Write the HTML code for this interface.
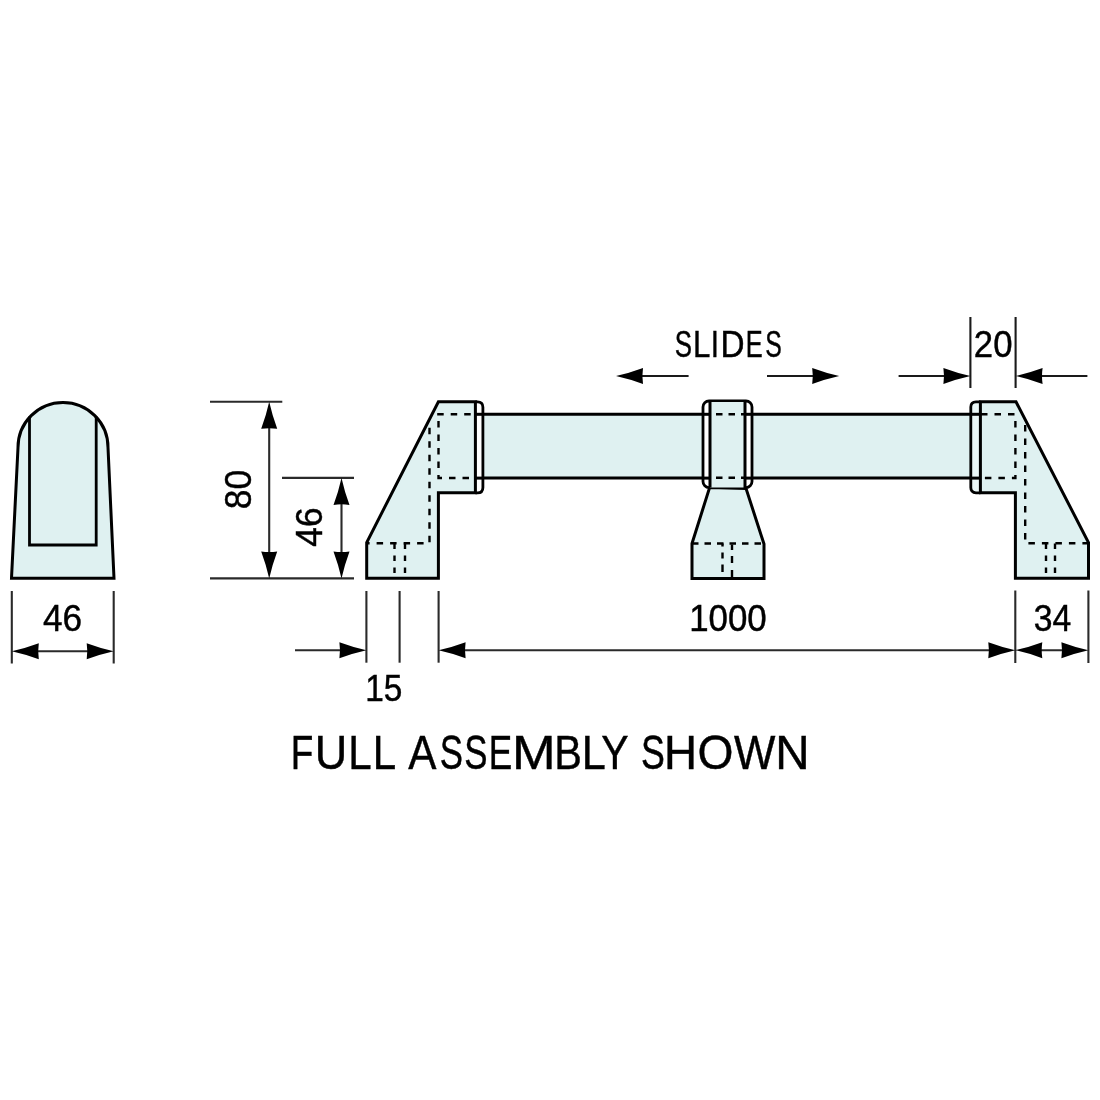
<!DOCTYPE html>
<html><head><meta charset="utf-8">
<style>
html,body{margin:0;padding:0;background:#fff;width:1100px;height:1100px;overflow:hidden}
svg{display:block}
text{font-family:"Liberation Sans",sans-serif;fill:#000}
</style></head><body>
<svg width="1100" height="1100" viewBox="0 0 1100 1100">
<defs>
<path id="ah" d="M0 0 Q-13.5 -3 -27 -8 Q-25.8 0 -27 8 Q-13.5 3 0 0 Z" fill="#000"/>
</defs>
<rect width="1100" height="1100" fill="#fff"/>

<!-- LEFT PROFILE -->
<path d="M11.5 578.2 L18 447.5 A45 45 0 0 1 108 447.5 L114 578.2 Z" fill="#dff1f1" stroke="#000" stroke-width="3" stroke-linejoin="miter"/>
<path d="M29.5 416.5 L29.5 545 L96.2 545 L96.2 416.5" fill="none" stroke="#000" stroke-width="2.8"/>

<!-- dims left profile -->
<g stroke="#2a2a2a" stroke-width="2.1" fill="none">
<line x1="11.8" y1="591" x2="11.8" y2="663.5"/>
<line x1="113.7" y1="591" x2="113.7" y2="663.5"/>
<line x1="20" y1="651.2" x2="105" y2="651.2"/>
</g>
<use href="#ah" transform="translate(11.8 651.2) rotate(180)"/>
<use href="#ah" transform="translate(113.7 651.2)"/>

<!-- height dims -->
<g stroke="#2a2a2a" stroke-width="2.1" fill="none">
<line x1="210" y1="401.8" x2="282.3" y2="401.8"/>
<line x1="210" y1="578.4" x2="354" y2="578.4"/>
<line x1="282" y1="477.9" x2="354" y2="477.9"/>
<line x1="269.2" y1="410" x2="269.2" y2="570"/>
<line x1="341.5" y1="486" x2="341.5" y2="570"/>
</g>
<use href="#ah" transform="translate(269.2 401.8) rotate(-90)"/>
<use href="#ah" transform="translate(269.2 578.4) rotate(90)"/>
<use href="#ah" transform="translate(341.5 477.9) rotate(-90)"/>
<use href="#ah" transform="translate(341.5 578.4) rotate(90)"/>

<!-- BAR -->
<rect x="482" y="414.3" width="490" height="63.8" fill="#dff1f1"/>
<g stroke="#000" stroke-width="3">
<line x1="475" y1="414.3" x2="710" y2="414.3"/>
<line x1="475" y1="478.1" x2="710" y2="478.1"/>
<line x1="745" y1="414.3" x2="980.4" y2="414.3"/>
<line x1="745" y1="478.1" x2="980.4" y2="478.1"/>
</g>

<!-- LEFT LEG -->
<path d="M475.4 401.8 L477.5 401.8 Q482.9 401.8 482.9 407.2 L482.9 487.4 Q482.9 492.8 477.5 492.8 L475.4 492.8" fill="#fff" stroke="#000" stroke-width="2.8"/>
<line x1="475.4" y1="414.3" x2="482.9" y2="414.3" stroke="#000" stroke-width="3"/>
<line x1="475.4" y1="478.1" x2="482.9" y2="478.1" stroke="#000" stroke-width="3"/>
<path d="M438.4 401.8 L475.4 401.8 L475.4 492.8 L438.4 492.8 L438.4 578.2 L366.7 578.2 L366.7 542.5 Z" fill="#dff1f1" stroke="#000" stroke-width="3" stroke-linejoin="miter"/>
<g stroke="#000" stroke-width="2.4" fill="none" stroke-dasharray="6.5 7">
<path d="M437.2 414.3 L475 414.3"/>
<path d="M438.5 421 L438.5 478 L475 478"/>
<path d="M429.5 427.7 L429.5 543.3 L367 543.3"/>
<path d="M394.5 543.5 L394.5 578" stroke-dasharray="5.5 6.5"/>
<path d="M405 543.5 L405 578" stroke-dasharray="5.5 6.5"/>
</g>

<!-- MIDDLE SLIDER -->
<path d="M709.6 487.6 L692 543.5 L692 578.5 L764 578.5 L764 544 L746 488.4 Z" fill="#dff1f1" stroke="#000" stroke-width="3"/>
<rect x="703" y="401" width="49" height="86.6" rx="6" fill="#fff" stroke="#000" stroke-width="2.8"/>
<rect x="710" y="402" width="35" height="85.5" fill="#dff1f1"/>
<g stroke="#000" stroke-width="3">
<line x1="710" y1="401" x2="710" y2="487.6"/>
<line x1="745" y1="401" x2="745" y2="488.4"/>
<line x1="703" y1="414.3" x2="710" y2="414.3"/>
<line x1="703" y1="478.1" x2="710" y2="478.1"/>
<line x1="745" y1="414.3" x2="752" y2="414.3"/>
<line x1="745" y1="478.1" x2="752" y2="478.1"/>
</g>
<g stroke="#000" stroke-width="2.4" fill="none" stroke-dasharray="6.5 6">
<path d="M716 414.3 L745 414.3"/>
<path d="M716 477.8 L745 477.8"/>
<path d="M692 543.5 L764 543.5"/>
<path d="M722.5 543.5 L722.5 578" stroke-dasharray="3 6 6 6 7.5 20"/>
<path d="M732 544.5 L732 578" stroke-dasharray="5.5 6 7 7 7 20"/>
</g>

<!-- RIGHT LEG -->
<path d="M980.4 401.8 L976 401.8 Q970.8 401.8 970.8 407 L970.8 487.6 Q970.8 492.8 976 492.8 L980.4 492.8" fill="#eaf7f7" stroke="#000" stroke-width="2.8"/>
<line x1="970.8" y1="414.3" x2="980.4" y2="414.3" stroke="#000" stroke-width="3"/>
<line x1="970.8" y1="478.1" x2="980.4" y2="478.1" stroke="#000" stroke-width="3"/>
<path d="M980.4 401.8 L1016 401.8 L1088.5 542.5 L1088.5 578.2 L1015.4 578.2 L1015.4 492.8 L980.4 492.8 Z" fill="#dff1f1" stroke="#000" stroke-width="3" stroke-linejoin="miter"/>
<g stroke="#000" stroke-width="2.4" fill="none" stroke-dasharray="6.5 7">
<path d="M981 414.3 L1016 414.3"/>
<path d="M1015.4 421 L1015.4 478 L981 478"/>
<path d="M1025.2 425 L1025.2 543.3 L1088 543.3"/>
<path d="M1046 543.5 L1046 578" stroke-dasharray="5.5 6.5"/>
<path d="M1055 543.5 L1055 578" stroke-dasharray="5.5 6.5"/>
</g>

<!-- top dims -->
<g stroke="#1a1a1a" stroke-width="2.1" fill="none">
<line x1="630" y1="376" x2="688.6" y2="376"/>
<line x1="767" y1="376" x2="825" y2="376"/>
<line x1="898.6" y1="376" x2="950" y2="376"/>
<line x1="1035" y1="376" x2="1087.4" y2="376"/>
<line x1="970.4" y1="317" x2="970.4" y2="388"/>
<line x1="1015.6" y1="317" x2="1015.6" y2="388"/>
</g>
<use href="#ah" transform="translate(616 376) rotate(180)"/>
<use href="#ah" transform="translate(839.2 376)"/>
<use href="#ah" transform="translate(970.4 376)"/>
<use href="#ah" transform="translate(1015.6 376) rotate(180)"/>

<!-- bottom dims -->
<g stroke="#2a2a2a" stroke-width="2.1" fill="none">
<line x1="366.4" y1="591" x2="366.4" y2="662.7"/>
<line x1="399.6" y1="591" x2="399.6" y2="662.7"/>
<line x1="438.6" y1="591" x2="438.6" y2="662.7"/>
<line x1="1015.3" y1="590.5" x2="1015.3" y2="663"/>
<line x1="1088.4" y1="590.5" x2="1088.4" y2="663"/>
<line x1="295" y1="650.2" x2="350" y2="650.2"/>
<line x1="455" y1="650.2" x2="1000" y2="650.2"/>
<line x1="1030" y1="650.2" x2="1075" y2="650.2"/>
</g>
<use href="#ah" transform="translate(366.4 650.2)"/>
<use href="#ah" transform="translate(438.6 650.2) rotate(180)"/>
<use href="#ah" transform="translate(1015.3 650.2)"/>
<use href="#ah" transform="translate(1015.3 650.2) rotate(180)"/>
<use href="#ah" transform="translate(1088.4 650.2)"/>

<!-- TEXT -->
<g style="filter:grayscale(1)" stroke="#000" stroke-width="0.45">
<text x="42.95" y="631.15" font-size="37.18" textLength="39.11" lengthAdjust="spacingAndGlyphs">46</text>
<text x="365.27" y="701.25" font-size="36.62" textLength="37.17" lengthAdjust="spacingAndGlyphs">15</text>
<text x="689.20" y="631.05" font-size="37.23" textLength="77.54" lengthAdjust="spacingAndGlyphs">1000</text>
<text x="1033.76" y="631.05" font-size="37.23" textLength="37.48" lengthAdjust="spacingAndGlyphs">34</text>
<text x="973.83" y="357.00" font-size="36.90" textLength="38.62" lengthAdjust="spacingAndGlyphs">20</text>
<text x="290.70" y="769.45" font-size="48.80" textLength="22.56" lengthAdjust="spacingAndGlyphs">F</text>
<text x="314.75" y="769.45" font-size="48.80" textLength="32.49" lengthAdjust="spacingAndGlyphs">U</text>
<text x="348.27" y="769.45" font-size="48.80" textLength="23.40" lengthAdjust="spacingAndGlyphs">L</text>
<text x="372.77" y="769.45" font-size="48.80" textLength="23.40" lengthAdjust="spacingAndGlyphs">L</text>
<text x="408.14" y="769.45" font-size="48.80" textLength="28.22" lengthAdjust="spacingAndGlyphs">A</text>
<text x="439.64" y="769.45" font-size="48.80" textLength="23.23" lengthAdjust="spacingAndGlyphs">S</text>
<text x="464.14" y="769.45" font-size="48.80" textLength="23.23" lengthAdjust="spacingAndGlyphs">S</text>
<text x="488.84" y="769.45" font-size="48.80" textLength="23.44" lengthAdjust="spacingAndGlyphs">E</text>
<text x="511.93" y="769.45" font-size="48.80" textLength="43.65" lengthAdjust="spacingAndGlyphs">M</text>
<text x="554.33" y="769.45" font-size="48.80" textLength="27.63" lengthAdjust="spacingAndGlyphs">B</text>
<text x="581.68" y="769.45" font-size="48.80" textLength="24.03" lengthAdjust="spacingAndGlyphs">L</text>
<text x="601.32" y="769.45" font-size="48.80" textLength="27.35" lengthAdjust="spacingAndGlyphs">Y</text>
<text x="641.10" y="769.45" font-size="48.80" textLength="23.81" lengthAdjust="spacingAndGlyphs">S</text>
<text x="663.97" y="769.45" font-size="48.80" textLength="33.03" lengthAdjust="spacingAndGlyphs">H</text>
<text x="697.54" y="769.45" font-size="48.80" textLength="35.95" lengthAdjust="spacingAndGlyphs">O</text>
<text x="734.03" y="769.45" font-size="48.80" textLength="41.39" lengthAdjust="spacingAndGlyphs">W</text>
<text x="775.33" y="769.45" font-size="48.80" textLength="34.32" lengthAdjust="spacingAndGlyphs">N</text>
<text x="674.65" y="356.95" font-size="37.00" textLength="17.21" lengthAdjust="spacingAndGlyphs">S</text>
<text x="692.97" y="356.95" font-size="37.00" textLength="17.34" lengthAdjust="spacingAndGlyphs">L</text>
<text x="710.80" y="356.95" font-size="37.00" textLength="8.19" lengthAdjust="spacingAndGlyphs">I</text>
<text x="720.59" y="356.95" font-size="37.00" textLength="24.08" lengthAdjust="spacingAndGlyphs">D</text>
<text x="745.74" y="356.95" font-size="37.00" textLength="16.92" lengthAdjust="spacingAndGlyphs">E</text>
<text x="765.30" y="356.95" font-size="37.00" textLength="16.51" lengthAdjust="spacingAndGlyphs">S</text>
<text transform="translate(250.66 509.17) rotate(-90)" font-size="36.01" textLength="39.35" lengthAdjust="spacingAndGlyphs">80</text>
<text transform="translate(322.33 546.66) rotate(-90)" font-size="36.86" textLength="39.24" lengthAdjust="spacingAndGlyphs">46</text>
</g>
</svg>
</body></html>
